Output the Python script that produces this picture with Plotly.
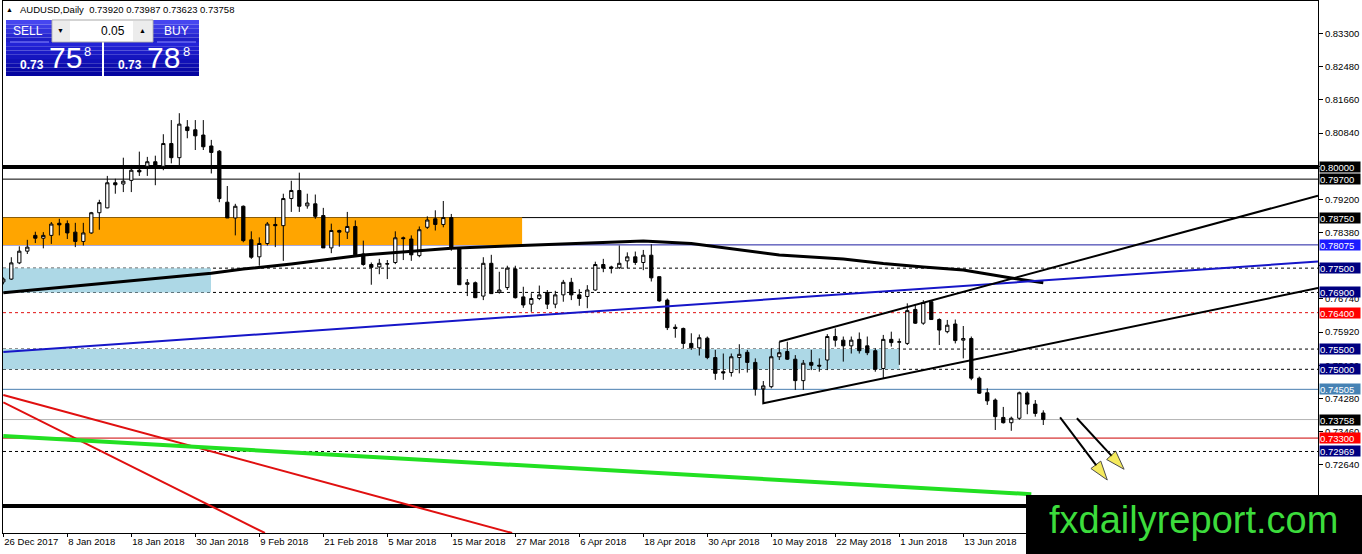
import plotly.graph_objects as go

# AUDUSD daily bars, 26 Dec 2017 .. 27 Jun 2018 (bar index on x)
opens = [0.7716, 0.7723, 0.7763, 0.7792, 0.7831, 0.7824, 0.7831, 0.7861, 0.7860, 0.7839,
         0.7816, 0.7837, 0.7887, 0.7899, 0.7961, 0.7958, 0.7967, 0.7992, 0.8002, 0.8013,
         0.8002, 0.8058, 0.8023, 0.8099, 0.8092, 0.8079, 0.8052, 0.8039, 0.7913, 0.7874,
         0.7903, 0.7820, 0.7778, 0.7811, 0.7858, 0.7855, 0.7922, 0.7942, 0.7904, 0.7909,
         0.7880, 0.7800, 0.7843, 0.7839, 0.7853, 0.7785, 0.7759, 0.7753, 0.7760, 0.7764,
         0.7825, 0.7822, 0.7781, 0.7851, 0.7872, 0.7858, 0.7875, 0.7800, 0.7710, 0.7714,
         0.7681, 0.7762, 0.7690, 0.7702, 0.7748, 0.7679, 0.7661, 0.7675, 0.7690, 0.7661,
         0.7684, 0.7715, 0.7684, 0.7680, 0.7696, 0.7759, 0.7753, 0.7751, 0.7768, 0.7778,
         0.7764, 0.7782, 0.7729, 0.7671, 0.7604, 0.7601, 0.7564, 0.7553, 0.7577, 0.7529,
         0.7494, 0.7492, 0.7529, 0.7542, 0.7517, 0.7451, 0.7457, 0.7531, 0.7544, 0.7525,
         0.7472, 0.7517, 0.7510, 0.7523, 0.7581, 0.7572, 0.7558, 0.7574, 0.7558, 0.7546,
         0.7502, 0.7574, 0.7567, 0.7564, 0.7648, 0.7614, 0.7667, 0.7623, 0.7593, 0.7612,
         0.7572, 0.7576, 0.7478, 0.7442, 0.7424, 0.7381, 0.7368, 0.7379, 0.7441, 0.7414,
         0.73920]
highs = [0.7727, 0.7777, 0.7804, 0.7820, 0.7840, 0.7839, 0.7864, 0.7872, 0.7868, 0.7862,
         0.7862, 0.7889, 0.7919, 0.7978, 0.7971, 0.8023, 0.8005, 0.8038, 0.8025, 0.8028,
         0.8081, 0.8116, 0.8133, 0.8116, 0.8116, 0.8116, 0.8067, 0.8042, 0.7953, 0.7909,
         0.7905, 0.7841, 0.7826, 0.7864, 0.7876, 0.7934, 0.7966, 0.7986, 0.7934, 0.7932,
         0.7899, 0.7860, 0.7845, 0.7889, 0.7868, 0.7818, 0.7764, 0.7773, 0.7770, 0.7841,
         0.7828, 0.7831, 0.7853, 0.7878, 0.7893, 0.7916, 0.7884, 0.7800, 0.7723, 0.7717,
         0.7777, 0.7783, 0.7741, 0.7756, 0.7756, 0.7704, 0.7688, 0.7707, 0.7696, 0.7694,
         0.7721, 0.7726, 0.7698, 0.7708, 0.7766, 0.7773, 0.7756, 0.7806, 0.7789, 0.7791,
         0.7795, 0.7809, 0.7729, 0.7675, 0.7611, 0.7603, 0.7589, 0.7586, 0.7581, 0.7548,
         0.7539, 0.7539, 0.7562, 0.7548, 0.7527, 0.7471, 0.7552, 0.7568, 0.7568, 0.7535,
         0.7523, 0.7548, 0.7527, 0.7587, 0.7601, 0.7581, 0.7581, 0.7591, 0.7581, 0.7552,
         0.7585, 0.7593, 0.7576, 0.7663, 0.7661, 0.7671, 0.7671, 0.7626, 0.7622, 0.7623,
         0.7607, 0.7581, 0.7482, 0.7453, 0.7428, 0.7407, 0.7383, 0.7445, 0.7445, 0.7424,
         0.73987]
lows = [0.7710, 0.7721, 0.7760, 0.7785, 0.7812, 0.7799, 0.7810, 0.7831, 0.7822, 0.7802,
        0.7806, 0.7835, 0.7845, 0.7898, 0.7934, 0.7938, 0.7938, 0.7978, 0.7978, 0.7955,
        0.7992, 0.8009, 0.8003, 0.8071, 0.8042, 0.8042, 0.7984, 0.7913, 0.7874, 0.7831,
        0.7814, 0.7773, 0.7756, 0.7806, 0.7802, 0.7768, 0.7889, 0.7889, 0.7897, 0.7872,
        0.7800, 0.7787, 0.7803, 0.7822, 0.7778, 0.7756, 0.7709, 0.7735, 0.7723, 0.7760,
        0.7770, 0.7768, 0.7777, 0.7847, 0.7843, 0.7851, 0.7793, 0.7709, 0.7681, 0.7676,
        0.7671, 0.7687, 0.7687, 0.7696, 0.7675, 0.7652, 0.7642, 0.7671, 0.7649, 0.7651,
        0.7667, 0.7671, 0.7657, 0.7651, 0.7694, 0.7740, 0.7737, 0.7748, 0.7750, 0.7758,
        0.7745, 0.7717, 0.7667, 0.7597, 0.7578, 0.7552, 0.7548, 0.7534, 0.7525, 0.7474,
        0.7474, 0.7482, 0.7490, 0.7492, 0.7435, 0.7438, 0.7453, 0.7523, 0.7523, 0.7449,
        0.7449, 0.7498, 0.7494, 0.7498, 0.7556, 0.7519, 0.7539, 0.7539, 0.7535, 0.7494,
        0.7478, 0.7556, 0.7511, 0.7560, 0.7612, 0.7610, 0.7622, 0.7560, 0.7589, 0.7564,
        0.7527, 0.7473, 0.7439, 0.7412, 0.7350, 0.7366, 0.7348, 0.7375, 0.7389, 0.7383,
        0.73623]
closes = [0.7723, 0.7763, 0.7792, 0.7802, 0.7824, 0.7831, 0.7859, 0.7857, 0.7837, 0.7816,
          0.7837, 0.7887, 0.7912, 0.7961, 0.7956, 0.7965, 0.7992, 0.7988, 0.8013, 0.8002,
          0.8058, 0.8023, 0.8106, 0.8090, 0.8077, 0.8050, 0.8036, 0.7922, 0.7874, 0.7903,
          0.7818, 0.7777, 0.7811, 0.7859, 0.7855, 0.7922, 0.7942, 0.7903, 0.7911, 0.7878,
          0.7800, 0.7843, 0.7839, 0.7853, 0.7783, 0.7759, 0.7752, 0.7762, 0.7761, 0.7825,
          0.7823, 0.7783, 0.7845, 0.7869, 0.7858, 0.7875, 0.7800, 0.7709, 0.7714, 0.7677,
          0.7762, 0.7687, 0.7696, 0.7750, 0.7677, 0.7659, 0.7675, 0.7684, 0.7661, 0.7684,
          0.7715, 0.7684, 0.7675, 0.7696, 0.7759, 0.7750, 0.7750, 0.7762, 0.7778, 0.7764,
          0.7782, 0.7726, 0.7669, 0.7603, 0.7601, 0.7564, 0.7553, 0.7578, 0.7529, 0.7490,
          0.7491, 0.7531, 0.7537, 0.7517, 0.7451, 0.7459, 0.7531, 0.7541, 0.7525, 0.7472,
          0.7515, 0.7510, 0.7508, 0.7581, 0.7572, 0.7558, 0.7572, 0.7546, 0.7541, 0.7500,
          0.7574, 0.7566, 0.7568, 0.7645, 0.7614, 0.7665, 0.7623, 0.7597, 0.7609, 0.7571,
          0.7576, 0.7478, 0.7441, 0.7422, 0.7383, 0.7368, 0.7379, 0.7442, 0.7414, 0.7391,
          0.73758]

tick_bars = [0, 8, 16, 24, 32, 40, 48, 56, 64, 72, 80, 88, 96, 104, 112, 120, 128]
tick_dates = ["26 Dec 2017", "8 Jan 2018", "18 Jan 2018", "30 Jan 2018", "9 Feb 2018",
              "21 Feb 2018", "5 Mar 2018", "15 Mar 2018", "27 Mar 2018", "6 Apr 2018",
              "18 Apr 2018", "30 Apr 2018", "10 May 2018", "22 May 2018", "1 Jun 2018",
              "13 Jun 2018", "25 Jun 2018"]
price_ticks = [0.83300, 0.82480, 0.81660, 0.80840, 0.80020, 0.79200, 0.78380, 0.77560,
               0.76740, 0.75920, 0.75100, 0.74280, 0.73460, 0.72640, 0.71820]

# moving average (bar, price)
ma_bars = [0, 10, 26, 30, 36, 45, 56, 63, 75, 80, 86, 97, 105, 110, 115, 120, 126, 130]
ma_vals = [0.76893, 0.77076, 0.77373, 0.77479, 0.77603, 0.77825, 0.77991, 0.78047, 0.78139,
           0.78171, 0.78109, 0.77825, 0.77726, 0.77615, 0.77528, 0.77454, 0.77257, 0.77140]

# horizontal levels (the last one has its tag hidden under the watermark)
levels = [0.80000, 0.79700, 0.78750, 0.78075, 0.77500, 0.76900, 0.76400, 0.75500,
          0.75000, 0.74505, 0.73758, 0.73300, 0.72969, 0.71621]

# zones: (low, high, last bar)
zone_low = [0.78075, 0.76900, 0.75000]
zone_high = [0.78750, 0.77500, 0.75500]
zone_end = [64.85, 25.96, 112.0]

# trend lines (bar, price)
blue_x = [0, 164.34]
blue_y = [0.75428, 0.77664]
chan_low_x = [95, 95, 164.34]
chan_low_y = [0.7453, 0.74160, 0.77007]
chan_up_x = [97, 164.34]
chan_up_y = [0.75682, 0.79291]
red_a_x = [0, 63.6]
red_a_y = [0.74365, 0.70954]
red_b_x = [0, 32.7]
red_b_y = [0.74184, 0.70954]
green_x = [0, 128.5]
green_y = [0.73352, 0.71913]
arrow_x = [[132.1, 138.0], [134.2, 140.1]]
arrow_y = [[0.73814, 0.72264], [0.73789, 0.72529]]

FONT = "Liberation Sans"


def px(x):
    return (x - 3) / 1315


def py(y):
    return (533 - y) / 532


fig = go.Figure()

fig.add_trace(go.Candlestick(
    x=list(range(len(opens))), open=opens, high=highs, low=lows, close=closes,
    increasing=dict(fillcolor="white", line=dict(color="black", width=1)),
    decreasing=dict(fillcolor="black", line=dict(color="black", width=1)),
    whiskerwidth=0, hoverinfo="skip", showlegend=False))

fig.add_trace(go.Scatter(x=ma_bars, y=ma_vals, mode="lines", line=dict(color="black", width=3),
                         hoverinfo="skip", showlegend=False))

for xs, ys, col, w in [(blue_x, blue_y, "#1616c8", 2), (chan_low_x, chan_low_y, "black", 2),
                       (chan_up_x, chan_up_y, "black", 2), (red_a_x, red_a_y, "#e01010", 2),
                       (red_b_x, red_b_y, "#e01010", 2), (green_x, green_y, "#22e022", 4)]:
    fig.add_trace(go.Scatter(x=xs, y=ys, mode="lines", line=dict(color=col, width=w),
                             hoverinfo="skip", showlegend=False))

for xs, ys in zip(arrow_x, arrow_y):
    fig.add_trace(go.Scatter(x=xs, y=ys, mode="lines+markers",
                             line=dict(color="black", width=2),
                             marker=dict(symbol="arrow", size=[0, 20], angleref="previous",
                                         color="#f2e21a", line=dict(color="black", width=1)),
                             hoverinfo="skip", showlegend=False))

shapes = []
zone_cols = ["#ffa500", "#add8e6", "#add8e6"]
for lo, hi, end, col in zip(zone_low, zone_high, zone_end, zone_cols):
    shapes.append(dict(type="rect", xref="x", yref="y", x0=-2, x1=end, y0=lo, y1=hi,
                       fillcolor=col, line=dict(width=0), layer="below"))

level_style = [("black", 4, "solid"), ("black", 1, "solid"), ("black", 1, "solid"),
               ("#1c1ca0", 1, "solid"), ("black", 1, "3px,3px"), ("black", 1, "3px,3px"),
               ("#e01010", 1, "3px,3px"), ("black", 1, "3px,3px"), ("black", 1, "3px,3px"),
               ("#4a7fb0", 1, "solid"), ("#b4b4b4", 1, "solid"), ("#cc0000", 1, "solid"),
               ("black", 1, "3px,3px"), ("black", 4, "solid")]
for lv, (col, w, dash) in zip(levels, level_style):
    shapes.append(dict(type="line", xref="paper", yref="y", x0=0, x1=1, y0=lv, y1=lv,
                       line=dict(color=col, width=w, dash=dash), layer="below"))

annotations = []
tag_cols = ["black", "black", "black", "#1c1cff", "#000080", "#000080", "#ff0000", "#000080",
            "#000080", "#4682b4", "black", "#ff0000", "#000080"]
for lv, col in zip(levels, tag_cols):
    annotations.append(dict(xref="paper", yref="y", x=px(1319), y=lv, xanchor="left",
                            yanchor="middle", text=f"{lv:.5f}", showarrow=False,
                            bgcolor=col, width=40, height=10, borderpad=0, align="left",
                            font=dict(family=FONT, size=9.5, color="white")))


def band(x0, x1, y0, y1, c0, c1, n=8):
    # vertical gradient made of thin bands
    out = []
    for i in range(n):
        t = i / (n - 1)
        r = int(c0[0] + (c1[0] - c0[0]) * t)
        g = int(c0[1] + (c1[1] - c0[1]) * t)
        b = int(c0[2] + (c1[2] - c0[2]) * t)
        ya = y0 + (y1 - y0) * i / n
        yb = y0 + (y1 - y0) * (i + 1) / n
        out.append(dict(type="rect", xref="paper", yref="paper", x0=px(x0), x1=px(x1),
                        y0=py(ya), y1=py(yb), fillcolor=f"rgb({r},{g},{b})",
                        line=dict(width=0), layer="above"))
    return out


# trade widget
shapes += band(6, 52, 20, 42, (70, 70, 240), (30, 30, 200), 5)
shapes += band(153, 199, 20, 42, (70, 70, 240), (30, 30, 200), 5)
shapes += band(6, 102, 42, 76, (35, 35, 215), (5, 5, 160), 8)
shapes += band(104, 199, 42, 76, (35, 35, 215), (5, 5, 160), 8)
shapes.append(dict(type="rect", xref="paper", yref="paper", x0=px(52), x1=px(153), y0=py(20),
                   y1=py(42), fillcolor="white", line=dict(color="#a8a8a8", width=1), layer="above"))
for a, b in [(53, 70), (133, 152)]:
    shapes.append(dict(type="rect", xref="paper", yref="paper", x0=px(a), x1=px(b), y0=py(21),
                       y1=py(41), fillcolor="#ececec", line=dict(width=0), layer="above"))
for a, b in [(10, 49), (157, 196)]:
    shapes.append(dict(type="line", xref="paper", yref="paper", x0=px(a), x1=px(b), y0=py(42),
                       y1=py(42), line=dict(color="#8c8cff", width=1), layer="above"))

# watermark box
shapes.append(dict(type="rect", xref="paper", yref="paper", x0=px(1026), x1=px(1364),
                   y0=py(556), y1=py(495), fillcolor="black", line=dict(width=0), layer="above"))


def label(x, y, text, size, color="white", anchor="center", bold=False):
    if bold:
        text = f"<b>{text}</b>"
    annotations.append(dict(xref="paper", yref="paper", x=px(x), y=py(y), text=text,
                            xanchor=anchor, yanchor="middle", showarrow=False,
                            font=dict(family=FONT, size=size, color=color)))


label(1193, 520, "fxdailyreport.com", 38, color="#3cdc3c")
label(9, 9, "▲", 7, color="black")
label(18, 9, "AUDUSD,Daily  0.73920 0.73987 0.73623 0.73758", 9.5, color="black", anchor="left")
label(28, 31, "SELL", 12)
label(176, 31, "BUY", 12)
label(61, 31, "▼", 7, color="black")
label(142, 30, "▲", 7, color="black")
label(127, 31, "0.05", 12, color="black", anchor="right")
label(32, 65, "0.73", 12, bold=True)
label(65, 58, "75", 30)
label(87, 51, "8", 13)
label(130, 65, "0.73", 12, bold=True)
label(163, 58, "78", 30)
label(186, 51, "8", 13)

fig.update_layout(
    width=1362, height=554,
    margin=dict(l=3, r=44, t=1, b=21, autoexpand=False),
    paper_bgcolor="white", plot_bgcolor="white",
    boxgap=0.42,
    showlegend=False,
    shapes=shapes,
    annotations=annotations,
    font=dict(family=FONT, size=9.5, color="black"),
)
fig.update_xaxes(range=[-0.04, 164.34], rangeslider=dict(visible=False), showgrid=False,
                 zeroline=False, tickmode="array", tickvals=tick_bars, ticktext=tick_dates,
                 ticks="outside", ticklen=3, tickcolor="black", ticklabelposition="outside right",
                 showline=True, linecolor="black", linewidth=1, mirror=True, automargin=False,
                 tickfont=dict(family=FONT, size=9.5, color="black"))
fig.update_yaxes(range=[0.70954, 0.84103], side="right", showgrid=False, zeroline=False,
                 tickmode="array", tickvals=price_ticks, tickformat=".5f",
                 ticks="outside", ticklen=4, tickcolor="black", automargin=False,
                 showline=True, linecolor="black", linewidth=1, mirror=True,
                 tickfont=dict(family=FONT, size=9.5, color="black"))

# page body has a default 8px margin; drop it so the chart fills the window
fig.write_html("out.html", config={"displayModeBar": False},
               post_script="document.body.style.margin='0px';")
